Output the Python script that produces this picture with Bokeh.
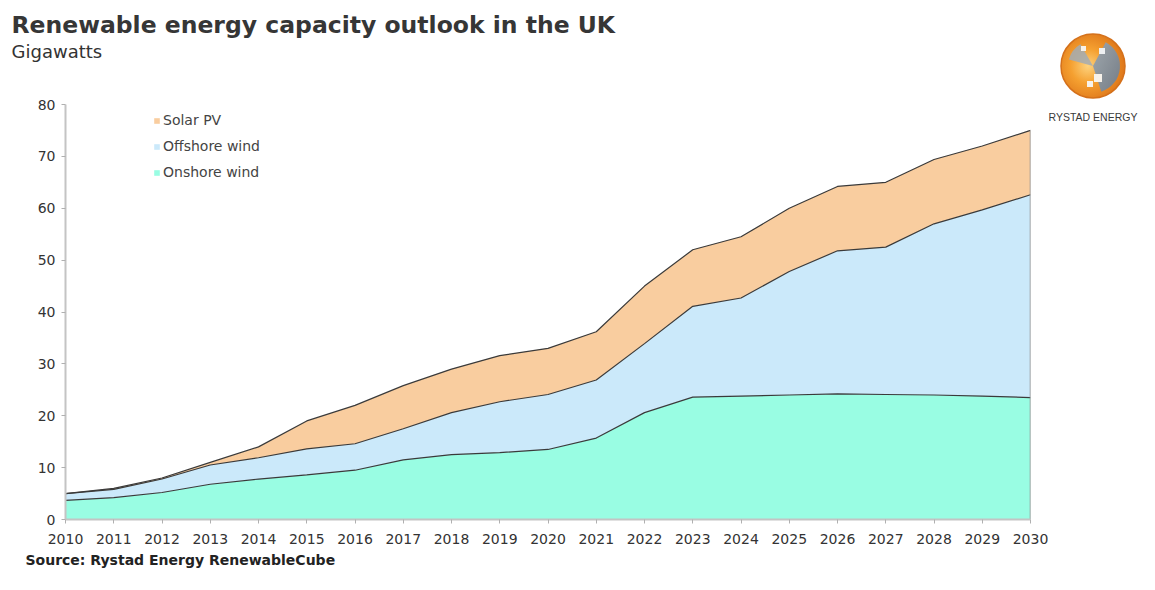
import numpy as np
from bokeh.plotting import figure
from bokeh.layouts import row
from bokeh.models import ColumnDataSource, Legend, LegendItem, FixedTicker, Title, Div
from bokeh.transform import stack
from bokeh.embed import file_html
from bokeh.resources import INLINE

years = list(range(2010, 2031))
onshore = [3.7, 4.2, 5.2, 6.8, 7.8, 8.6, 9.5, 11.5, 12.5, 12.9, 13.5, 15.7, 20.6, 23.6,
           23.8, 24.0, 24.2, 24.1, 24.0, 23.8, 23.5]
offshore = [1.3, 1.6, 2.6, 3.7, 4.1, 5.0, 5.1, 6.0, 8.1, 9.8, 10.6, 11.2, 13.3, 17.5,
            18.9, 23.8, 27.6, 28.4, 33.0, 35.9, 39.1]
solar = [0.0, 0.2, 0.2, 0.5, 2.1, 5.4, 7.4, 8.3, 8.4, 8.9, 8.9, 9.3, 11.1, 10.9,
         11.8, 12.2, 12.4, 12.5, 12.4, 12.3, 12.4]
y_ticks = [0, 10, 20, 30, 40, 50, 60, 70, 80]

series = ["onshore", "offshore", "solar"]
names = {"onshore": "Onshore wind", "offshore": "Offshore wind", "solar": "Solar PV"}
colors = {"onshore": "#99fde3", "offshore": "#cbe9fa", "solar": "#f9cd9f"}

src = ColumnDataSource(dict(year=years, onshore=onshore, offshore=offshore, solar=solar))

H = 574
WM = 1048            # main chart width
WL = 1139 - WM       # logo panel width
L, T, B = 65, 104, 55
R = WM - 1030
FH = H - T - B
FONT = "DejaVu Sans"

p = figure(width=WM, height=H, output_backend="svg", toolbar_location=None,
           x_range=(years[0], years[-1]), y_range=(y_ticks[0], y_ticks[-1]),
           min_border_left=L, min_border_right=R, min_border_top=T, min_border_bottom=B)
p.outline_line_color = None
p.xgrid.visible = False
p.ygrid.visible = False

areas = p.varea_stack(series, x="year", source=src, color=[colors[s] for s in series])
for i in range(len(series)):
    p.line(x="year", y=stack(*series[:i + 1]), source=src, line_color="#3a3a3a",
           line_width=1.2)
total = [a + b + c for a, b, c in zip(onshore, offshore, solar)]
p.line(x=[years[-1], years[-1]], y=[0, total[-1]], line_color="#8a8a8a", line_width=1.5)

items = [LegendItem(label=names[s], renderers=[r]) for s, r in zip(series, areas)][::-1]
legend = Legend(items=items, location=(88, FH - 6 - 72), padding=0, margin=0,
                spacing=6, label_height=20, glyph_height=7, glyph_width=7,
                label_standoff=3, border_line_color=None, background_fill_alpha=0,
                label_text_font=FONT, label_text_font_size="14px",
                label_text_color="#444444")
p.add_layout(legend)

p.xaxis.ticker = FixedTicker(ticks=years)
p.yaxis.ticker = FixedTicker(ticks=y_ticks)
for ax in (p.xaxis, p.yaxis):
    ax.axis_line_color = "#c4c4c4"
    ax.axis_line_width = 2
    ax.major_tick_line_color = "#b0b0b0"
    ax.major_tick_in = 0
    ax.major_tick_out = 4
    ax.minor_tick_line_color = None
    ax.major_label_text_font = FONT
    ax.major_label_text_font_size = "14px"
    ax.major_label_text_color = "#333333"
p.xaxis.major_label_standoff = 10
p.yaxis.major_label_standoff = 6

p.title.text = "Renewable energy capacity outlook in the UK"
p.title.text_font = FONT
p.title.text_font_size = "23.5px"
p.title.text_font_style = "bold"
p.title.text_color = "#363636"
p.title.align = "left"
p.title.offset = -54
p.title.standoff = 0
# blank spacer between subtitle and plot area
spacer = Title(text=" ", text_font=FONT, text_font_size="10px", standoff=30)
p.add_layout(spacer, "above")
sub = Title(text="Gigawatts", text_font=FONT, text_font_size="18px",
            text_font_style="normal", text_color="#333333", align="left", offset=-54,
            standoff=0)
p.add_layout(sub, "above")
src_t = Title(text="Source: Rystad Energy RenewableCube", text_font=FONT,
              text_font_size="14px", text_font_style="bold", text_color="#222222",
              align="left", offset=-40, standoff=7)
p.add_layout(src_t, "below")

# company mark at top right (decoration, drawn as inline SVG)
cx, cy, rr = 45, 66, 32

def wedge(r, a0, a1):
    x0, y0 = cx + r * np.cos(np.radians(a0)), cy + r * np.sin(np.radians(a0))
    x1, y1 = cx + r * np.cos(np.radians(a1)), cy + r * np.sin(np.radians(a1))
    big = 1 if (a1 - a0) % 360 > 180 else 0
    return f"M{cx},{cy} L{x0:.1f},{y0:.1f} A{r},{r} 0 {big} 1 {x1:.1f},{y1:.1f} Z"

logo_svg = f"""
<svg xmlns="http://www.w3.org/2000/svg" width="{WL}" height="140" style="display:block">
 <defs>
  <radialGradient id="gl" cx="42%" cy="50%" r="60%">
   <stop offset="0%" stop-color="#fcd27e"/>
   <stop offset="45%" stop-color="#f5a030"/>
   <stop offset="100%" stop-color="#dd7418"/>
  </radialGradient>
  <linearGradient id="gg" x1="0" y1="0" x2="1" y2="1">
   <stop offset="0%" stop-color="#9aa6b2"/>
   <stop offset="100%" stop-color="#6f7d8c"/>
  </linearGradient>
 </defs>
 <circle cx="{cx}" cy="{cy}" r="{rr}" fill="url(#gl)"/>
 <path d="{wedge(27, -62, 72)}" fill="url(#gg)" opacity="0.95"/>
 <path d="{wedge(25, 195, 240)}" fill="#a2abb4" opacity="0.85"/>
 <rect x="{cx + 1}" y="{cy + 8}" width="8" height="8" fill="#f7f2ea"/>
 <rect x="{cx - 6}" y="{cy + 15}" width="6" height="6" fill="#f7f2ea"/>
 <rect x="{cx + 6}" y="{cy - 18}" width="6" height="6" fill="#eef0f2"/>
 <rect x="{cx - 12}" y="{cy - 20}" width="5" height="5" fill="#f7f2ea"/>
 <circle cx="{cx}" cy="{cy}" r="{rr}" fill="none" stroke="#d4701a" stroke-width="1.5"/>
 <text x="{cx}" y="121" text-anchor="middle" font-family="DejaVu Sans" font-size="10.5"
       fill="#3a3a3a">RYSTAD ENERGY</text>
</svg>"""
logo = Div(text=logo_svg, width=WL, height=140, margin=0)

layout = row(p, logo, spacing=0)
open("out.html", "w").write(file_html(layout, INLINE))
